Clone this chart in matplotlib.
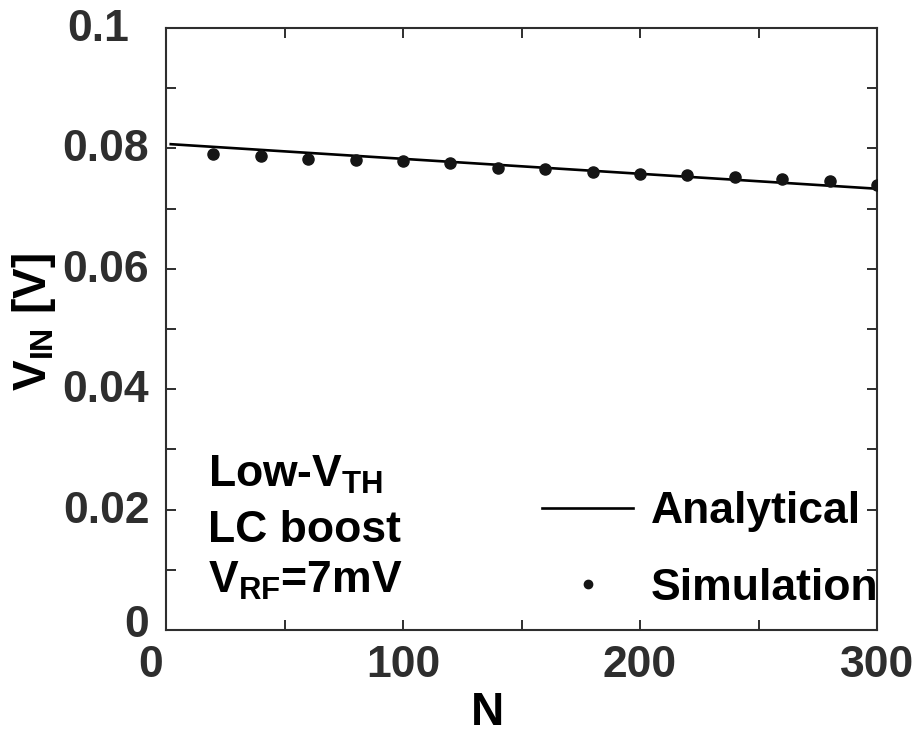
import matplotlib
matplotlib.use("Agg")
import matplotlib.pyplot as plt
from matplotlib.ticker import MultipleLocator
from matplotlib.transforms import ScaledTranslation

# ---- datos ----
n_analytical = [2, 300]
v_analytical = [0.0807, 0.0733]

n_sim = [20, 40, 60, 80, 100, 120, 140, 160, 180, 200, 220, 240, 260, 280, 300]
v_sim = [0.0790, 0.0787, 0.0782, 0.0781, 0.0779, 0.0775, 0.0767, 0.0765,
         0.0761, 0.0758, 0.0755, 0.0753, 0.0749, 0.0746, 0.0740]

x_ticks = [0, 100, 200, 300]
y_ticks = [0, 0.02, 0.04, 0.06, 0.08, 0.1]
y_ticklabels = ["0", "0.02", "0.04", "0.06", "0.08", "0.1"]

plt.rcParams["font.family"] = ["Liberation Sans", "DejaVu Sans"]
plt.rcParams["font.weight"] = "bold"
plt.rcParams["mathtext.fontset"] = "custom"
plt.rcParams["mathtext.rm"] = "Liberation Sans:bold"
plt.rcParams["mathtext.bf"] = "Liberation Sans:bold"
plt.rcParams["mathtext.it"] = "Liberation Sans:bold"

TICK_C = "#2e2e2e"
FS = 32

fig = plt.figure(figsize=(9.19, 7.35), dpi=100, facecolor="white")
ax = fig.add_axes([166 / 919, 105 / 735, 711 / 919, 602 / 735])

ax.plot(n_analytical, v_analytical, color="black", lw=1.9, label="Analytical", zorder=3)
ax.plot(n_sim, v_sim, ls="none", marker="o", ms=8, color="#151515",
        label="Simulation", zorder=4)

ax.set_xlim(0, 300)
ax.set_ylim(0, 0.1)
ax.set_xticks(x_ticks)
ax.xaxis.set_minor_locator(MultipleLocator(50))
ax.set_yticks(y_ticks)
ax.set_yticklabels(y_ticklabels)
ax.yaxis.set_minor_locator(MultipleLocator(0.01))

for which in ("major", "minor"):
    ax.tick_params(axis="both", which=which, direction="in", length=7, width=1.4,
                   color=TICK_C, top=True, right=True)
ax.tick_params(axis="both", which="major", labelsize=FS, labelcolor=TICK_C)
ax.tick_params(axis="x", which="major", pad=11)
ax.tick_params(axis="y", which="major", pad=12)
for lbl in ax.get_xticklabels() + ax.get_yticklabels():
    lbl.set_fontweight("bold")
for sp in ax.spines.values():
    sp.set_color(TICK_C)
    sp.set_linewidth(1.5)

# desplazamientos de algunas etiquetas como en el original
def _shift(lbl, dx_px, dy_px):
    lbl.set_transform(lbl.get_transform() +
                      ScaledTranslation(dx_px / 100, dy_px / 100, fig.dpi_scale_trans))

yt = ax.yaxis.get_major_ticks()
xt = ax.xaxis.get_major_ticks()
for t in yt[:-1]:
    _shift(t.label1, 0, 3)
_shift(yt[0].label1, 0, 6)
_shift(yt[-1].label1, -20, 3)
_shift(xt[0].label1, -15, 0)

ax.set_xlabel("N", fontsize=FS + 1, fontweight="bold", color="black", va="center")
ax.xaxis.set_label_coords((488 - 166) / 711, -(713 - 630) / 602)
ax.set_ylabel(r"V$_{\mathrm{IN}}$ [V]", fontsize=FS + 1, fontweight="bold",
              color="black", va="center")
ax.yaxis.set_label_coords(-(166 - 34) / 711, (630 - 322) / 602)

# cuadro de condiciones (baseline de cada linea)
ax.text(0.059, 0.2375, r"Low-V$_{\mathrm{TH}}$", transform=ax.transAxes,
        fontsize=FS, fontweight="bold", va="baseline", ha="left")
ax.text(0.059, 0.146, "LC boost", transform=ax.transAxes,
        fontsize=FS, fontweight="bold", va="baseline", ha="left")
ax.text(0.059, 0.0615, r"V$_{\mathrm{RF}}$=7mV", transform=ax.transAxes,
        fontsize=FS, fontweight="bold", va="baseline", ha="left")

leg = ax.legend(loc="lower left", bbox_to_anchor=(0.529, 0.035), frameon=False,
                fontsize=FS, handlelength=2.05, handletextpad=0.4,
                labelspacing=0.8, markerscale=0.75, borderaxespad=0.0,
                borderpad=0.0)
for t in leg.get_texts():
    t.set_fontweight("bold")

fig.savefig("out.png", dpi=100, facecolor="white")
